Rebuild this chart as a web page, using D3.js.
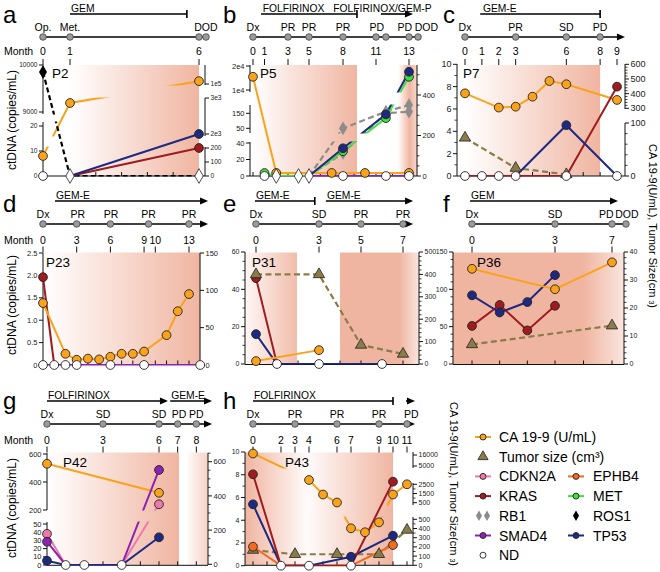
<!DOCTYPE html>
<html>
<head>
<meta charset="utf-8">
<script src="https://cdnjs.cloudflare.com/ajax/libs/d3/7.8.5/d3.min.js"></script>
<style>
body { margin: 0; background: #fff; }
svg { display: block; font-family: "Liberation Sans", Arial, Helvetica, sans-serif; }
</style>
</head>
<body>
<svg id="chart" width="660" height="572"></svg>
<script>
// ---------- data: series are [month, value] ----------
// ctDNA (copies/mL) on the left axis, CA 19-9 / tumor size on the right axis

// a - P2
var P2_CA199 = [[0, 143], [1, 2861], [6, 103000]];
var P2_ROS1 = [[0, 9850], [1, 0], [6, 0]];
var P2_KRAS = [[1, 0], [6, 11.2]];
var P2_TP53 = [[1, 0], [6, 16.8]];
var P2_ND = [0];
var P2_ND_DIAMOND = [1, 6];
var P2_MONTHS = [0, 1, 6];
var P2_STATUS = [[0, "Op."], [1, "Met."], [6.27, "DOD"]];
var P2_TREAT = [["GEM", 1, 5.53, "bar"]];

// b - P5
var P5_CA199 = [[0, 490], [2, 15], [7, 15], [10, 15], [13, 15]];
var P5_TP53 = [[5, 0], [8, 33.6], [11.6, 143], [13, 17600]];
var P5_MET = [[1, 3.6], [2, 0], [5, 0], [8, 30], [11.6, 118], [13, 15500]];
var P5_RB1_A = [[5, 0], [8, 50], [11.6, 161], [13, 205]];
var P5_RB1_B = [[5, 0], [8, 28], [11.6, 150], [13, 161]];
var P5_SMAD4 = [[1, 0], [13, 0]];
var P5_ND = [1, 8, 11.6, 13];
var P5_ND_DIAMOND = [2, 4, 5];
var P5_MONTHS = [0, 1, 3, 5, 8, 11, 13];
var P5_STATUS = [[0, "Dx"], [3, "PR"], [5, "PR"], [8, "PR"], [11.05, "PD"], [12.75, "PD"], [14.05, "DOD"]];
var P5_TREAT = [["FOLFIRINOX", 0.7, 9.27, "bar", 0.75], ["FOLFIRINOX/GEM-P", 11.3, 13.24, "arrow", 7.05]];

// c - P7
var P7_CA199 = [[0, 402], [2, 305], [3, 311], [4, 379], [5, 486], [6, 464], [9, 357]];
var P7_TUMOR = [[0, 72], [3, 15], [6, 3]];
var P7_KRAS = [[0, 0], [6, 0], [9, 8.0]];
var P7_TP53 = [[3, 0], [6, 4.55], [9, 0]];
var P7_ND = [0, 1, 2, 3, 6, 9];
var P7_MONTHS = [0, 1, 2, 3, 6, 8, 9];
var P7_STATUS = [[0, "Dx"], [3, "PR"], [6, "SD"], [8, "PD"]];
var P7_TREAT = [["GEM-E", 0.9, 8, "bar", 1.0]];

// d - P23
var P23_KRAS = [[0, 1.96], [1, 0]];
var P23_CA199 = [[0, 83], [2, 15], [3, 7], [4, 8.5], [5, 7.5], [6, 11], [7, 15], [8, 15], [9, 18], [11, 40], [12, 72], [13, 95]];
var P23_SMAD4 = [[0, 0], [14, 0]];
var P23_ND = [0, 1, 2, 3, 6, 9, 14];
var P23_MONTHS = [0, 3, 6, 9, 10, 13];
var P23_STATUS = [[0, "Dx"], [3.1, "PR"], [6.05, "PR"], [9.4, "PR"], [13, "PR"]];
var P23_TREAT = [["GEM-E", 1.07, 14.7, "arrow"]];

// e - P31
var P31_KRAS = [[0, 46], [1, 0]];
var P31_TP53 = [[0, 16], [1, 0], [6, 0]];
var P31_CA199 = [[0, 13], [3, 62]];
var P31_TUMOR = [[0, 400], [3, 400], [5, 85], [7, 45]];
var P31_ND = [1, 3, 6];
var P31_MONTHS = [0, 3, 5, 7];
var P31_STATUS = [[0, "Dx"], [3, "SD"], [5, "PR"], [7, "PR"]];
var P31_TREAT = [["GEM-E", -0.05, 2.8, "bar"], ["GEM-E", 3.33, 7.48, "arrow"]];

// f - P36
var P36_CA199 = [[0, 34], [3, 26.7], [7, 36.3]];
var P36_KRAS = [[0, 51], [1, 79], [2, 45], [3, 78]];
var P36_TP53 = [[0, 92], [1, 69], [2, 83], [3, 119]];
var P36_TUMOR = [[0, 7], [7, 13.7]];
var P36_MONTHS = [0, 3, 7];
var P36_STATUS = [[0, "Dx"], [3, "SD"], [6.6, "PD"], [8.05, "DOD"]];
var P36_TREAT = [["GEM", -0.07, 7.42, "arrow"]];

// g - P42
var P42_CA199 = [[0, 588], [6, 418]];
var P42_CDKN2A = [[0, 38], [1, 0], [4, 0], [6, 241]];
var P42_SMAD4 = [[0, 28.4], [1, 0], [4, 0], [6, 486]];
var P42_TP53 = [[0, 5.2], [1, 0], [4, 0], [6, 33.8]];
var P42_ND = [1, 2, 4];
var P42_MONTHS = [0, 3, 6, 7, 8];
var P42_STATUS = [[0, "Dx"], [3, "SD"], [6, "SD"], [7.07, "PD"], [8, "PD"]];
var P42_TREAT = [["FOLFIRINOX", 0, 6.48, "arrow"], ["GEM-E", 6.6, 8.84, "arrow"]];

// h - P43
var P43_CA199 = [[0, 17500], [4, 2967], [5, 1390], [6, 520], [7, 402], [8, 359], [9, 467], [10, 1390], [11, 2500]];
var P43_KRAS = [[0, 8.04], [2, 0], [7, 0], [10, 7.39]];
var P43_TP53 = [[0, 5.4], [2, 0], [4, 0], [7, 0.79], [10, 2.64]];
var P43_EPHB4 = [[0, 1.67], [2, 0], [7, 0], [10, 1.82]];
var P43_TUMOR = [[0, 166], [3, 120], [6, 120], [9, 120], [11, 384]];
var P43_ND = [2, 4, 7];
var P43_MONTHS = [0, 2, 3, 4, 6, 7, 9, 10, 11];
var P43_STATUS = [[0, "Dx"], [3, "PR"], [6, "PR"], [9, "PR"], [11.3, "PD"]];
var P43_TREAT = [["FOLFIRINOX", 0, 10, "bar"], ["", 10.93, 11.57, "arrow"]];

// axis tick labels, one list per axis segment
var A_L_TICKS = [[0, 10, 20], [9000, 10000]];
var A_R_TICKS = [[0, 100, 200], [2000, 3000], [100000]];
var B_L_TICKS = [[0, 20, 40], [50, 150], [10000, 20000]];
var B_R_TICKS = [[0, 200, 400]];
var C_L_TICKS = [[0, 2, 4, 6, 8, 10]];
var C_R_TICKS = [[0, 100], [300, 400, 500, 600]];
var D_L_TICKS = [[0, 0.5, 1, 1.5, 2, 2.5]];
var D_R_TICKS = [[0, 50, 100, 150]];
var E_L_TICKS = [[0, 20, 40, 60]];
var E_R_TICKS = [[0, 100, 200, 300, 400, 500]];
var F_L_TICKS = [[0, 50, 100, 150]];
var F_R_TICKS = [[0, 10, 20, 30, 40]];
var G_L_TICKS = [[0, 10, 20, 30, 40, 50], [200, 400, 600]];
var G_R_TICKS = [[0, 200, 400, 600]];
var H_L_TICKS = [[0, 2, 4, 6, 8, 10]];
var H_R_TICKS = [[0, 100, 200, 300, 400, 500], [500, 1500, 2500], [5000, 16000]];

var LEGEND_ROWS = [
    [["ca", "CA 19-9 (U/mL)"]],
    [["tumor", "Tumor size (cm\u00b3)"]],
    [["cdkn2a", "CDKN2A"], ["ephb4", "EPHB4"]],
    [["kras", "KRAS"], ["met", "MET"]],
    [["rb1", "RB1"], ["ros1", "ROS1"]],
    [["smad4", "SMAD4"], ["tp53", "TP53"]],
    [["nd", "ND"]]
];

// ---------- styles ----------
var SALMON = "#f0b5a1";
var STYLE = {
    ca:     {color: "#f9a31d", marker: "circle", axis: "R"},
    tumor:  {color: "#8a7c48", marker: "triangle", dash: "6,3.5", axis: "R"},
    cdkn2a: {color: "#ee7aa8", marker: "circle"},
    ephb4:  {color: "#f36b21", marker: "circle"},
    kras:   {color: "#9e1b1f", marker: "circle"},
    met:    {color: "#3fe03f", marker: "circle"},
    rb1:    {color: "#8c8c8c", marker: "diamond", dash: "6,3.5"},
    ros1:   {color: "#000000", marker: "diamond", dash: "5,3"},
    smad4:  {color: "#8b23b0", marker: "circle"},
    tp53:   {color: "#1e2a82", marker: "circle"}
};

var ROWS = [
    {treat: 14, status: 31, line: 37, month: 55, top: 65, bottom: 176, letter: 23, pid: 78, title: 120},
    {treat: 201, status: 218, line: 224, month: 244, top: 252.5, bottom: 364.5, letter: 212, pid: 267, title: 305},
    {treat: 401, status: 418, line: 424, month: 444, top: 452.5, bottom: 565.3, letter: 409, pid: 467, title: 508}
];

// one axis segment: domain->range calibration, drawn extent, ticks, selection threshold, minor step
function band(dom, rng, ext, ticks, from, minor) {
    return {dom: dom, rng: rng, ext: ext, ticks: ticks, from: from || 0, minor: minor || 0};
}

var PANELS = [
    {letter: "a", pid: "P2", row: 0, letterX: 3, pidDx: 9, monthWord: true,
     xDom: [0, 1, 6], xRng: [43, 70, 199], axL: 43, axR: 205, tickFs: 6.6,
     months: P2_MONTHS, bottomTicks: d3.range(0, 7), status: P2_STATUS, dots: [0, 1, 6, 6.27], tl: [0, 6.27, false],
     treat: P2_TREAT, shade: [{from: 1, to: 6, stops: [[0, 0], [1, 1]]}],
     left: [band([0, 20], [176, 126], [176, 122], A_L_TICKS[0], 0), band([9000, 10000], [112, 65], [114, 65], A_L_TICKS[1], 1000)],
     right: [band([0, 200], [176, 148], [176, 147], A_R_TICKS[0], 0), band([2000, 3000], [134, 98], [136, 98], A_R_TICKS[1], 1000),
             band([100000, 120000], [84, 65], [85, 65], A_R_TICKS[2], 50000)],
     leftFmt: "plain", rightFmt: "exp",
     series: [["ca", P2_CA199], ["ros1", P2_ROS1], ["kras", P2_KRAS], ["tp53", P2_TP53]],
     nd: P2_ND, ndDiamond: P2_ND_DIAMOND},

    {letter: "b", pid: "P5", row: 0, letterX: 223, pidDx: 10,
     xDom: [0, 1, 3, 5, 8, 11, 13], xRng: [253, 264.5, 288, 309, 343, 376, 409], axL: 250, axR: 417, tickFs: 7.5,
     months: P5_MONTHS, bottomTicks: d3.range(0, 14), status: P5_STATUS, dots: [0, 3, 5, 8, 11, 11.6, 13, 13.55], tl: [0, 13.55, false],
     treat: P5_TREAT, shade: [{from: 0, to: 9.27, stops: [[0, 0], [1, 1]]}, {from: 12.33, to: 13.5, stops: [[0, 0], [0.6, 1], [1, 0.5]]}],
     left: [band([0, 40], [176, 143], [176, 142], B_L_TICKS[0], 0), band([50, 150], [128.3, 113.3], [133, 105], B_L_TICKS[1], 45),
            band([10000, 20000], [90, 66], [92, 65], B_L_TICKS[2], 1000)],
     right: [band([0, 400], [176, 95], [176, 65], B_R_TICKS[0], 0, 50)],
     leftFmt: "exp", rightFmt: "plain",
     series: [["smad4", P5_SMAD4], ["ca", P5_CA199], ["rb1", P5_RB1_A], ["rb1", P5_RB1_B], ["met", P5_MET], ["tp53", P5_TP53]],
     nd: P5_ND, ndDiamond: P5_ND_DIAMOND},

    {letter: "c", pid: "P7", row: 0, letterX: 443, pidDx: 6,
     xDom: [0, 9], xRng: [465, 617], axL: 457, axR: 625, tickFs: 9,
     months: P7_MONTHS, bottomTicks: d3.range(0, 10), status: P7_STATUS, dots: [0, 3, 6, 8], tl: [0, 9.47, true],
     treat: P7_TREAT, shade: [{from: 0, to: 8, stops: [[0, 0], [1, 1]]}],
     left: [band([0, 10], [176, 64.3], [176, 64], C_L_TICKS[0], 0, 1)],
     right: [band([0, 100], [176, 123], [176, 123], C_R_TICKS[0], 0, 20), band([300, 600], [108.3, 64.3], [109, 64], C_R_TICKS[1], 200, 20)],
     leftFmt: "plain", rightFmt: "plain",
     series: [["tumor", P7_TUMOR], ["ca", P7_CA199], ["kras", P7_KRAS], ["tp53", P7_TP53]],
     nd: P7_ND, ndDiamond: []},

    {letter: "d", pid: "P23", row: 1, letterX: 3, pidDx: 3, monthWord: true,
     xDom: [0, 13], xRng: [43, 189], axL: 43, axR: 200, tickFs: 7.5,
     months: P23_MONTHS, bottomTicks: d3.range(0, 15), status: P23_STATUS, dots: [0, 3, 6, 9.4, 13], tl: [0, 14.7, true],
     treat: P23_TREAT, shade: [{from: 0, to: 14, stops: [[0, 0], [1, 1]]}],
     left: [band([0, 2.5], [365, 253], [365, 253], D_L_TICKS[0], 0)],
     right: [band([0, 150], [365, 253], [365, 253], D_R_TICKS[0], 0)],
     leftFmt: "dec", rightFmt: "plain",
     series: [["smad4", P23_SMAD4], ["kras", P23_KRAS], ["ca", P23_CA199]],
     nd: P23_ND, ndDiamond: []},

    {letter: "e", pid: "P31", row: 1, letterX: 223, pidDx: 7,
     xDom: [0, 7], xRng: [256, 403], axL: 245, axR: 419, tickFs: 7,
     months: P31_MONTHS, bottomTicks: d3.range(0, 8), status: P31_STATUS, dots: [0, 3, 5, 7], tl: [0, 7.48, true],
     treat: P31_TREAT,
     shade: [{from: -0.52, to: 1.95, stops: [[0, 0.1], [1, 0.9]]}, {from: 4, to: 7.76, stops: [[0, 1], [0.75, 1], [1, 0.35]]}],
     left: [band([0, 60], [364, 252], [364, 252], E_L_TICKS[0], 0, 5)],
     right: [band([0, 500], [364, 252], [364, 252], E_R_TICKS[0], 0, 20)],
     leftFmt: "plain", rightFmt: "plain",
     series: [["tp53", P31_TP53], ["kras", P31_KRAS], ["ca", P31_CA199], ["tumor", P31_TUMOR]],
     nd: P31_ND, ndDiamond: []},

    {letter: "f", pid: "P36", row: 1, letterX: 443, pidDx: 24,
     xDom: [0, 3, 7], xRng: [472, 555, 612], axL: 453, axR: 624, tickFs: 7,
     months: P36_MONTHS, bottomTicks: [0, 1, 2, 3, 5, 7], status: P36_STATUS, dots: [0, 3, 7, 7.98], tl: [0, 7.98, false],
     treat: P36_TREAT, shade: [{from: -0.69, to: 7.84, stops: [[0, 1], [0.76, 1], [1, 0.35]]}],
     left: [band([0, 150], [364, 252], [364, 252], F_L_TICKS[0], 0, 10)],
     right: [band([0, 40], [364, 252], [364, 252], F_R_TICKS[0], 0, 2)],
     leftFmt: "plain", rightFmt: "plain",
     series: [["tumor", P36_TUMOR], ["kras", P36_KRAS], ["tp53", P36_TP53], ["ca", P36_CA199]],
     nd: [], ndDiamond: []},

    {letter: "g", pid: "P42", row: 2, letterX: 3, pidDx: 16, monthWord: true,
     xDom: [0, 6], xRng: [47, 159], axL: 47, axR: 208, tickFs: 7.5,
     months: P42_MONTHS, bottomTicks: d3.range(0, 9), status: P42_STATUS, dots: [0, 3, 6, 7, 8], tl: [0, 8.84, true],
     treat: P42_TREAT,
     shade: [{from: 0, to: 7.07, stops: [[0, 0], [1, 1]]}, {from: 7.55, to: 8.63, stops: [[0, 0.1], [1, 0.6]]}],
     left: [band([0, 50], [565, 524], [565, 522], G_L_TICKS[0], 0), band([200, 600], [510, 454], [510, 453], G_L_TICKS[1], 100)],
     right: [band([0, 600], [564.3, 461.7], [565, 453], G_R_TICKS[0], 0, 50)],
     leftFmt: "plain", rightFmt: "plain",
     series: [["ca", P42_CA199], ["cdkn2a", P42_CDKN2A], ["smad4", P42_SMAD4], ["tp53", P42_TP53]],
     nd: P42_ND, ndDiamond: []},

    {letter: "h", pid: "P43", row: 2, letterX: 223, pidDx: 40,
     xDom: [0, 11], xRng: [253, 407], axL: 245, axR: 413, tickFs: 7,
     months: P43_MONTHS, bottomTicks: d3.range(0, 12), status: P43_STATUS, dots: [0, 3, 6, 9, 11], tl: [0, 11.57, true],
     treat: P43_TREAT, shade: [{from: -0.57, to: 10, stops: [[0, 1], [0.42, 0.05], [1, 1]]}],
     left: [band([0, 10], [565.7, 452], [565.7, 452], H_L_TICKS[0], 0, 1)],
     right: [band([0, 500], [565.3, 519.3], [565.3, 517], H_R_TICKS[0], 0, 50), band([500, 2500], [502.7, 484.3], [505, 483], H_R_TICKS[1], 501, 500),
             band([5000, 16000], [466, 455], [468, 452], H_R_TICKS[2], 4000)],
     leftFmt: "plain", rightFmt: "plain",
     series: [["tumor", P43_TUMOR], ["ca", P43_CA199], ["ephb4", P43_EPHB4], ["tp53", P43_TP53], ["kras", P43_KRAS]],
     nd: P43_ND, ndDiamond: []}
];

// ---------- drawing ----------
var svg = d3.select("#chart");
var defs = svg.append("defs");

// piecewise scale for a broken axis: pick the segment by threshold, then map linearly
function bandScale(bands) {
    var ss = bands.map(function(b) { return d3.scaleLinear().domain(b.dom).range(b.rng); });
    var f = function(v) {
        var k = 0;
        bands.forEach(function(b, j) { if (v >= b.from) k = j; });
        return ss[k](v);
    };
    f.scales = ss;
    return f;
}

function fmtFor(kind) {
    if (kind === "exp") return function(v) {
        if (v < 1000) return String(v);
        var k = Math.floor(Math.log10(v));
        return (v / Math.pow(10, k)) + "e" + k;
    };
    if (kind === "dec") return function(v) { return v === 0 ? "0" : d3.format(".1f")(v); };
    return function(v) { return String(v); };
}

function arrowHead(g, x, y) {
    g.append("path")
        .attr("d", "M" + x + "," + y + "L" + (x - 8) + "," + (y - 3.6) + "L" + (x - 8) + "," + (y + 3.6) + "Z")
        .attr("fill", "#000");
}

function drawMarker(g, type, cx, cy, fill, stroke, size) {
    if (type === "circle") {
        g.append("circle").attr("cx", cx).attr("cy", cy).attr("r", size || 4.4)
            .attr("fill", fill).attr("stroke", stroke).attr("stroke-width", 0.9);
    } else {
        var sym = type === "triangle" ? d3.symbolTriangle : d3.symbolDiamond;
        g.append("path").attr("d", d3.symbol().type(sym).size(size || 55)())
            .attr("transform", "translate(" + cx + "," + cy + ")")
            .attr("fill", fill).attr("stroke", stroke).attr("stroke-width", stroke === "none" ? 0 : 0.8);
    }
}

function drawAxis(g, bands, scale, ax, side, fs, fmt) {
    var dir = side === "L" ? -1 : 1;
    bands.forEach(function(b, i) {
        var s = scale.scales[i];
        g.append("line").attr("x1", ax).attr("x2", ax).attr("y1", b.ext[0]).attr("y2", b.ext[1])
            .attr("stroke", "#111").attr("stroke-width", 1);
        if (b.minor) {
            var lo = s.invert(b.ext[0]), hi = s.invert(b.ext[1]);
            d3.range(Math.ceil(lo / b.minor) * b.minor, hi + 1e-9, b.minor).forEach(function(t) {
                if (b.ticks.indexOf(t) >= 0) return;
                g.append("line").attr("x1", ax).attr("x2", ax + dir * 2.5).attr("y1", s(t)).attr("y2", s(t))
                    .attr("stroke", "#111").attr("stroke-width", 0.8);
            });
        }
        b.ticks.forEach(function(t) {
            g.append("line").attr("x1", ax).attr("x2", ax + dir * 4).attr("y1", s(t)).attr("y2", s(t))
                .attr("stroke", "#111").attr("stroke-width", 1);
            g.append("text").attr("x", ax + dir * 5.5).attr("y", s(t)).attr("dy", "0.35em")
                .attr("text-anchor", side === "L" ? "end" : "start")
                .attr("font-size", fs).attr("fill", "#222").text(fmt(t));
        });
    });
}

// lines are hidden where they pass through an axis break
function clipFor(id, bands, x0, x1) {
    var cp = defs.append("clipPath").attr("id", id);
    bands.forEach(function(b) {
        cp.append("rect").attr("x", x0 - 8).attr("y", b.ext[1] - 0.5)
            .attr("width", x1 - x0 + 16).attr("height", b.ext[0] - b.ext[1] + 1);
    });
}

function drawPanel(p) {
    var row = ROWS[p.row];
    var g = svg.append("g").attr("class", "panel-" + p.letter);
    var x = d3.scaleLinear().domain(p.xDom).range(p.xRng);
    var yL = bandScale(p.left), yR = bandScale(p.right);

    // treatment shading
    p.shade.forEach(function(s, i) {
        var gid = "grad-" + p.letter + i;
        var lg = defs.append("linearGradient").attr("id", gid)
            .attr("x1", 0).attr("x2", 1).attr("y1", 0).attr("y2", 0);
        s.stops.forEach(function(st) {
            lg.append("stop").attr("offset", st[0]).attr("stop-color", SALMON).attr("stop-opacity", st[1]);
        });
        g.append("rect").attr("x", x(s.from)).attr("y", row.top)
            .attr("width", x(s.to) - x(s.from)).attr("height", row.bottom - row.top)
            .attr("fill", "url(#" + gid + ")");
    });

    // panel letter
    g.append("text").attr("x", p.letterX).attr("y", row.letter).attr("font-size", 24).text(p.letter);

    // treatments
    p.treat.forEach(function(t) {
        var x0 = x(t[1]), x1 = x(t[2]);
        g.append("line").attr("x1", x0).attr("x2", t[3] === "arrow" ? x1 - 6 : x1)
            .attr("y1", row.treat).attr("y2", row.treat).attr("stroke", "#000").attr("stroke-width", 1.6);
        if (t[3] === "bar") {
            g.append("line").attr("x1", x1).attr("x2", x1).attr("y1", row.treat - 4).attr("y2", row.treat + 4)
                .attr("stroke", "#000").attr("stroke-width", 1.6);
        } else {
            arrowHead(g, x1, row.treat);
        }
        if (t[0]) {
            g.append("text").attr("x", x(t[4] !== undefined ? t[4] : t[1]) + 1).attr("y", row.treat - 2.5)
                .attr("font-size", 10.3).text(t[0]);
        }
    });

    // clinical timeline
    g.append("line").attr("x1", x(p.tl[0])).attr("x2", p.tl[2] ? x(p.tl[1]) - 6 : x(p.tl[1]))
        .attr("y1", row.line).attr("y2", row.line).attr("stroke", "#000").attr("stroke-width", 1.5);
    if (p.tl[2]) arrowHead(g, x(p.tl[1]), row.line);
    p.dots.forEach(function(m) {
        g.append("circle").attr("cx", x(m)).attr("cy", row.line).attr("r", 3.3)
            .attr("fill", "#9a9a9a").attr("stroke", "#444").attr("stroke-width", 0.8);
    });
    p.status.forEach(function(s) {
        g.append("text").attr("x", x(s[0])).attr("y", row.status).attr("text-anchor", "middle")
            .attr("font-size", 10.5).text(s[1]);
    });

    // month labels and ticks
    if (p.monthWord) {
        g.append("text").attr("x", 4).attr("y", row.month).attr("font-size", 10.5).text("Month");
    }
    p.months.forEach(function(m) {
        g.append("text").attr("x", x(m)).attr("y", row.month).attr("text-anchor", "middle")
            .attr("font-size", 10.5).text(m);
        g.append("line").attr("x1", x(m)).attr("x2", x(m)).attr("y1", row.top - 6).attr("y2", row.top)
            .attr("stroke", "#111").attr("stroke-width", 1);
    });
    g.append("line").attr("x1", p.axL).attr("x2", p.axR).attr("y1", row.bottom).attr("y2", row.bottom)
        .attr("stroke", "#111").attr("stroke-width", 1);
    p.bottomTicks.forEach(function(m) {
        g.append("line").attr("x1", x(m)).attr("x2", x(m)).attr("y1", row.bottom - 4).attr("y2", row.bottom)
            .attr("stroke", "#111").attr("stroke-width", 1);
    });

    // y axes
    drawAxis(g, p.left, yL, p.axL, "L", p.tickFs, fmtFor(p.leftFmt));
    drawAxis(g, p.right, yR, p.axR, "R", p.tickFs, fmtFor(p.rightFmt));

    clipFor("clip-" + p.letter + "-L", p.left, p.axL, p.axR);
    clipFor("clip-" + p.letter + "-R", p.right, p.axL, p.axR);

    p.series.forEach(function(s) {
        var st = STYLE[s[0]];
        var y = st.axis === "R" ? yR : yL;
        var line = d3.line().x(function(d) { return x(d[0]); }).y(function(d) { return y(d[1]); });
        g.append("path").datum(s[1]).attr("d", line)
            .attr("fill", "none").attr("stroke", st.color).attr("stroke-width", st.dash ? 2.2 : 2)
            .attr("stroke-dasharray", st.dash || null)
            .attr("clip-path", "url(#clip-" + p.letter + "-" + (st.axis === "R" ? "R" : "L") + ")");
    });

    p.series.forEach(function(s) {
        var st = STYLE[s[0]];
        var y = st.axis === "R" ? yR : yL;
        s[1].forEach(function(d) {
            if (d[1] === 0) return;
            var stroke = (s[0] === "rb1" || s[0] === "ros1") ? "none" : "#222";
            drawMarker(g, st.marker, x(d[0]), y(d[1]), st.color, stroke);
        });
    });

    // not detected
    p.nd.forEach(function(m) { drawMarker(g, "circle", x(m), yL(0), "#fff", "#222"); });
    p.ndDiamond.forEach(function(m) { drawMarker(g, "diamond", x(m), yL(0), "#fff", "#222", 62); });

    // patient id
    g.append("text").attr("x", p.axL + p.pidDx).attr("y", row.pid).attr("font-size", 13.5).text(p.pid);
}

PANELS.forEach(drawPanel);

// axis titles
ROWS.forEach(function(r) {
    svg.append("text").attr("transform", "translate(16," + r.title + ") rotate(-90)")
        .attr("text-anchor", "middle").attr("font-size", 12).text("ctDNA (copies/mL)");
});
[[649, 226], [450, 484]].forEach(function(pos) {
    var t = svg.append("text").attr("transform", "translate(" + pos[0] + "," + pos[1] + ") rotate(90)")
        .attr("text-anchor", "middle").attr("font-size", 11);
    t.append("tspan").text("CA 19-9(U/mL), Tumor Size(cm ");
    t.append("tspan").attr("font-size", 7).text("3");
    t.append("tspan").text(")");
});

// legend
var legend = svg.append("g").attr("class", "legend");
var colX = [[483, 499], [576, 593]];
LEGEND_ROWS.forEach(function(items, i) {
    var cy = 437 + i * 19.7;
    items.forEach(function(it, j) {
        var mx = colX[j][0], key = it[0];
        if (key === "nd") {
            drawMarker(legend, "circle", mx, cy, "#fff", "#222", 3);
        } else if (key === "tumor") {
            drawMarker(legend, "triangle", mx, cy, STYLE.tumor.color, "#222", 45);
        } else if (key === "rb1") {
            drawMarker(legend, "diamond", mx - 4, cy, STYLE.rb1.color, "none", 32);
            drawMarker(legend, "diamond", mx + 4, cy, STYLE.rb1.color, "none", 32);
        } else if (key === "ros1") {
            drawMarker(legend, "diamond", mx, cy, "#000", "none", 32);
        } else {
            legend.append("line").attr("x1", mx - 8).attr("x2", mx + 8).attr("y1", cy).attr("y2", cy)
                .attr("stroke", STYLE[key].color).attr("stroke-width", 2);
            drawMarker(legend, "circle", mx, cy, STYLE[key].color, "#222", 3);
        }
        legend.append("text").attr("x", colX[j][1]).attr("y", cy).attr("dy", "0.36em")
            .attr("font-size", 14).text(it[1]);
    });
});
</script>
</body>
</html>
